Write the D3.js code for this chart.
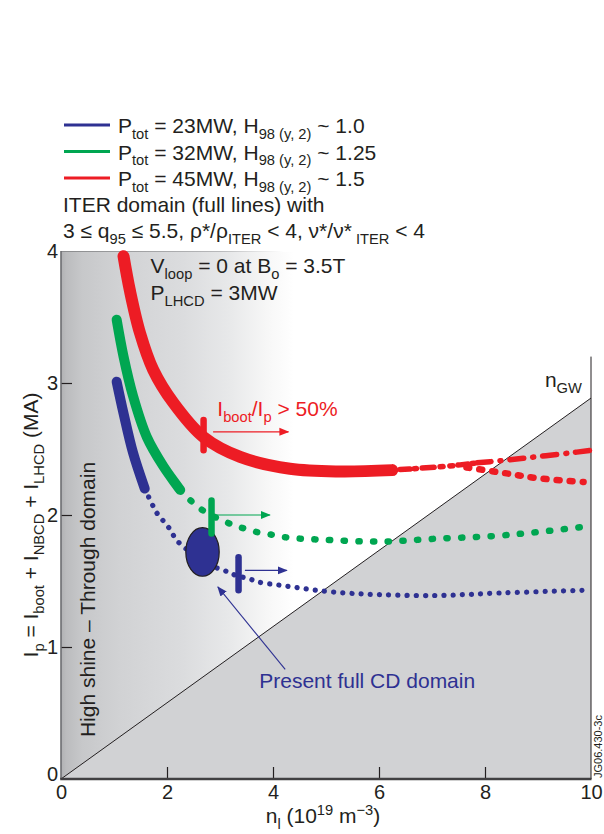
<!DOCTYPE html>
<html><head><meta charset="utf-8">
<script src="https://cdn.jsdelivr.net/npm/d3@7"></script>
<style>
body{margin:0;background:#fff}
svg{display:block}
text{font-family:"Liberation Sans",Arial,Helvetica,sans-serif;white-space:pre}
</style>
</head><body>
<svg id="c" width="604" height="834"></svg>
<script>
// ---------- data ----------
const xTicks = [0, 2, 4, 6, 8, 10];
const yTicks = [0, 1, 2, 3, 4];
const xDomain = [0, 10];
const yDomain = [0, 4];

// Greenwald limit line end value at n = 10
const nGW_x = [0, 10];
const nGW_y = [0, 2.886];

// 45 MW (red)
const redSolidX = [1.18, 1.30, 1.49, 1.74, 2.12, 2.69, 3.38, 4.32, 5.26, 6.25];
const redSolidY = [3.96, 3.70, 3.38, 3.10, 2.85, 2.59, 2.44, 2.35, 2.33, 2.34];
const redMidX = [6.25, 6.8, 7.3, 7.85];
const redMidY = [2.34, 2.355, 2.37, 2.395];
const redUpX = [7.85, 8.26, 8.72, 9.6, 10.0];
const redUpY = [2.395, 2.41, 2.43, 2.47, 2.49];
const redLowX = [7.65, 8.33, 8.97, 9.86];
const redLowY = [2.36, 2.32, 2.28, 2.25];
const redMark = {x: 2.69, y0: 2.49, y1: 2.72};
const redArrow = {x0: 2.87, x1: 4.29, y: 2.63};

// 32 MW (green)
const greenSolidX = [1.05, 1.18, 1.36, 1.62, 1.93, 2.25];
const greenSolidY = [3.48, 3.20, 2.90, 2.59, 2.37, 2.19];
const greenDotX = [2.25, 2.62, 3.15, 3.44, 3.70, 3.99, 4.26, 4.54, 4.81, 5.08, 5.66, 6.20, 7.06, 8.14, 8.97, 9.85];
const greenDotY = [2.19, 2.05, 1.94, 1.90, 1.87, 1.85, 1.83, 1.82, 1.815, 1.81, 1.80, 1.80, 1.82, 1.84, 1.87, 1.91];
const greenMark = {x: 2.84, y0: 1.86, y1: 2.11};
const greenArrow = {x0: 2.94, x1: 3.94, y: 2.0};

// 23 MW (blue)
const blueSolidX = [1.05, 1.18, 1.36, 1.58];
const blueSolidY = [3.01, 2.77, 2.47, 2.20];
const blueDotX = [1.58, 1.71, 1.80, 1.92, 2.06, 2.18, 2.5, 2.8, 3.08, 3.25, 3.60, 3.75, 4.10, 4.45, 4.82, 5.33, 5.78, 7.06, 8.33, 9.86];
const blueDotY = [2.20, 2.09, 2.02, 1.96, 1.89, 1.81, 1.70, 1.62, 1.58, 1.55, 1.51, 1.49, 1.47, 1.45, 1.43, 1.41, 1.40, 1.39, 1.41, 1.43];
const blueMark = {x: 3.35, y0: 1.43, y1: 1.68};
const blueArrow = {x0: 3.47, x1: 4.26, y: 1.58};

// present full CD domain ellipse (center, half-widths in data units)
const cdEllipse = {x: 2.67, y: 1.72, rx: 0.315, ry: 0.184};
const cdPointer = {x0: 4.23, y0: 0.83, x1: 2.96, y1: 1.455};

const legendItems = [
  {color: "#2e3192", p: "23MW", h: "1.0"},
  {color: "#00a651", p: "32MW", h: "1.25"},
  {color: "#ed1c24", p: "45MW", h: "1.5"}
];

// ---------- setup ----------
const BLUE = "#2e3192", GREEN = "#00a651", RED = "#ed1c24", INK = "#231f20";
const svg = d3.select("#c");
const x = d3.scaleLinear().domain(xDomain).range([61, 591]);
const y = d3.scaleLinear().domain(yDomain).range([779, 251]);
const zip = (xs, ys) => xs.map((v, i) => [v, ys[i]]);
const line = d3.line().x(d => x(d[0])).y(d => y(d[1])).curve(d3.curveCatmullRom.alpha(0.5));

const defs = svg.append("defs");
const grad = defs.append("linearGradient").attr("id", "bg").attr("x1", 0).attr("x2", 1).attr("y1", 0).attr("y2", 0);
[[0, "#b0b1b3"], [0.01, "#bbbcbe"], [0.04, "#c7c8ca"], [0.11, "#d1d2d4"], [0.23, "#dbdcde"], [0.32, "#e8e9ea"], [0.39, "#f7f7f7"], [0.44, "#ffffff"], [1, "#ffffff"]]
  .forEach(([o, c]) => grad.append("stop").attr("offset", o).attr("stop-color", c));
const tgrad = defs.append("linearGradient").attr("id", "topg").attr("gradientUnits", "userSpaceOnUse")
  .attr("x1", x(0)).attr("x2", x(10)).attr("y1", 0).attr("y2", 0);
[[0, "#8a8b8d"], [0.3, "#b8b9bb"], [0.42, "#ffffff"], [1, "#ffffff"]]
  .forEach(([o, c]) => tgrad.append("stop").attr("offset", o).attr("stop-color", c));

function marker(id, color) {
  defs.append("marker").attr("id", id).attr("viewBox", "0 0 10 10").attr("refX", 9).attr("refY", 5)
    .attr("markerWidth", 10).attr("markerHeight", 10).attr("markerUnits", "userSpaceOnUse").attr("orient", "auto")
    .append("path").attr("d", "M0,1 L10,5 L0,9 Z").attr("fill", color);
}
marker("arR", RED); marker("arG", GREEN); marker("arB", BLUE);

// rich text helper: parts [text, kind]
function rich(g, px, py, parts, o = {}) {
  const size = o.size || 21, fill = o.fill || INK;
  const t = g.append("text").attr("x", px).attr("y", py).attr("font-size", size).attr("fill", fill);
  if (o.anchor) t.attr("text-anchor", o.anchor);
  if (o.transform) t.attr("transform", o.transform);
  let shift = 0;
  parts.forEach(([s, k]) => {
    const target = k === "sub" ? size * 0.27 : k === "sup" ? -size * 0.38 : 0;
    const ts = t.append("tspan").text(s).attr("dy", target - shift);
    if (k) ts.attr("font-size", size * 0.7);
    shift = target;
  });
  return t;
}

// ---------- background ----------
svg.append("rect").attr("x", x(0)).attr("y", y(4)).attr("width", x(10) - x(0)).attr("height", y(0) - y(4)).attr("fill", "url(#bg)");
const gw = zip(nGW_x, nGW_y);
svg.append("path").attr("d", `M${x(gw[0][0])},${y(gw[0][1])} L${x(gw[1][0])},${y(gw[1][1])} L${x(10)},${y(0)} Z`).attr("fill", "#d1d2d4");
svg.append("line").attr("x1", x(gw[0][0])).attr("y1", y(gw[0][1])).attr("x2", x(gw[1][0])).attr("y2", y(gw[1][1]))
  .attr("stroke", INK).attr("stroke-width", 1);

// borders
svg.append("line").attr("x1", x(0)).attr("x2", x(10)).attr("y1", y(4) + 0.5).attr("y2", y(4) + 0.5).attr("stroke", "url(#topg)").attr("stroke-width", 1.2);
svg.append("line").attr("x1", x(10)).attr("x2", x(10)).attr("y1", y(3.2)).attr("y2", y(0)).attr("stroke", INK).attr("stroke-width", 1);

// axes
const ax = svg.append("g").attr("transform", `translate(0,${y(0)})`)
  .call(d3.axisBottom(x).tickValues(xTicks).tickFormat(d3.format("d")).tickSize(-12).tickPadding(6));
ax.select(".domain").remove();
ax.selectAll("text").attr("font-size", 20).attr("fill", INK).attr("font-family", "Liberation Sans, Arial, sans-serif");
ax.selectAll("line").attr("stroke", INK).attr("stroke-width", 1.2).filter(d => d === 0 || d === 10).remove();

const ay = svg.append("g").attr("transform", `translate(${x(0)},0)`)
  .call(d3.axisLeft(y).tickValues(yTicks).tickFormat(d3.format("d")).tickSize(-11).tickPadding(3));
ay.select(".domain").remove();
ay.selectAll("text").attr("font-size", 20).attr("fill", INK).attr("font-family", "Liberation Sans, Arial, sans-serif")
  .attr("dy", d => d === 0 ? "0.05em" : "0.32em");
ay.selectAll("line").attr("stroke", INK).attr("stroke-width", 1.2).filter(d => d === 0 || d === 4).remove();

svg.append("line").attr("x1", x(0)).attr("x2", x(0)).attr("y1", y(4)).attr("y2", y(0)).attr("stroke", "#6d6e71").attr("stroke-width", 1.6);
svg.append("line").attr("x1", x(0) - 0.8).attr("x2", x(10) + 0.5).attr("y1", y(0)).attr("y2", y(0)).attr("stroke", "#414042").attr("stroke-width", 2.4);

// ---------- curves ----------
const curves = svg.append("g").attr("fill", "none").attr("stroke-linecap", "round").attr("stroke-linejoin", "round");
// blue
curves.append("path").attr("d", line(zip(blueDotX, blueDotY))).attr("stroke", BLUE).attr("stroke-width", 5.2).attr("stroke-dasharray", "0.1 9.1");
curves.append("path").attr("d", line(zip(blueSolidX, blueSolidY))).attr("stroke", BLUE).attr("stroke-width", 10);
// green
curves.append("path").attr("d", line(zip(greenDotX, greenDotY))).attr("stroke", GREEN).attr("stroke-width", 6.5).attr("stroke-dasharray", "1.2 13.5");
curves.append("path").attr("d", line(zip(greenSolidX, greenSolidY))).attr("stroke", GREEN).attr("stroke-width", 10);
// red
curves.append("path").attr("d", line(zip(redMidX, redMidY))).attr("stroke", RED).attr("stroke-width", 5.5).attr("stroke-dasharray", "3 5 10 4 2 6 12 6 3 7");
curves.append("path").attr("d", line(zip(redUpX, redUpY))).attr("stroke", RED).attr("stroke-width", 5.5).attr("stroke-dasharray", "14 9 1 9");
curves.append("path").attr("d", line(zip(redLowX, redLowY))).attr("stroke", RED).attr("stroke-width", 6.5).attr("stroke-dasharray", "3 10");
curves.append("path").attr("d", line(zip(redSolidX, redSolidY))).attr("stroke", RED).attr("stroke-width", 12);

// ellipse
svg.append("ellipse").attr("cx", x(cdEllipse.x)).attr("cy", y(cdEllipse.y))
  .attr("rx", x(cdEllipse.rx) - x(0)).attr("ry", y(0) - y(cdEllipse.ry))
  .attr("fill", BLUE).attr("stroke", INK).attr("stroke-width", 1.2);

// threshold marks & arrows
[[redMark, redArrow, RED, "arR"], [greenMark, greenArrow, GREEN, "arG"], [blueMark, blueArrow, BLUE, "arB"]].forEach(([m, a, c, id]) => {
  svg.append("line").attr("x1", x(m.x)).attr("x2", x(m.x)).attr("y1", y(m.y0)).attr("y2", y(m.y1))
    .attr("stroke", c).attr("stroke-width", 6.5).attr("stroke-linecap", "round");
  svg.append("line").attr("x1", x(a.x0)).attr("x2", x(a.x1)).attr("y1", y(a.y)).attr("y2", y(a.y))
    .attr("stroke", c).attr("stroke-width", 1.2).attr("marker-end", `url(#${id})`);
});

// pointer
svg.append("line").attr("x1", x(cdPointer.x0)).attr("y1", y(cdPointer.y0)).attr("x2", x(cdPointer.x1)).attr("y2", y(cdPointer.y1))
  .attr("stroke", BLUE).attr("stroke-width", 1.1).attr("marker-end", "url(#arB)");

// ---------- texts ----------
const T = svg.append("g");
rich(T, x(3.74), y(0.69), [["Present full CD domain"]], {fill: BLUE});
rich(T, x(2.95), y(2.75), [["I"], ["boot", "sub"], ["/I"], ["p", "sub"], [" > 50%"]], {fill: RED});
rich(T, x(1.69), y(3.83), [["V"], ["loop", "sub"], [" = 0 at B"], ["o", "sub"], [" = 3.5T"]]);
rich(T, x(1.69), y(3.63), [["P"], ["LHCD", "sub"], [" = 3MW"]]);
rich(T, x(9.13), y(2.97), [["n"], ["GW", "sub"]]);

// vertical in-plot text
rich(T, 0, 0, [["High shine \u2013 Through domain"]], {anchor: "middle", transform: `translate(${x(0.64)},${y(1.36)}) rotate(-90)`});
// y label
rich(T, 0, 0, [["I"], ["p", "sub"], [" = I"], ["boot", "sub"], [" + I"], ["NBCD", "sub"], [" + I"], ["LHCD", "sub"], [" (MA)"]],
  {anchor: "middle", transform: `translate(38,525) rotate(-90)`});
// x label
rich(T, 323, 823, [["n"], ["l", "sub"], [" (10"], ["19", "sup"], [" m"], ["\u22123", "sup"], [")"]], {anchor: "middle"});
// id
T.append("text").attr("transform", "translate(602,778) rotate(-90)").attr("font-size", 11).attr("fill", INK).text("JG06.430-3c");

// legend
legendItems.forEach((d, i) => {
  const ly = 125 + i * 26.5;
  svg.append("line").attr("x1", 64).attr("x2", 110).attr("y1", ly).attr("y2", ly).attr("stroke", d.color).attr("stroke-width", 3);
  rich(T, 118, ly + 8, [["P"], ["tot", "sub"], [" = " + d.p + ", H"], ["98 (y, 2)", "sub"], [" ~ " + d.h]]);
});
rich(T, 63, 212, [["ITER domain (full lines) with"]]);
rich(T, 63, 238, [["3 \u2264 q"], ["95", "sub"], [" \u2264 5.5, \u03c1*/\u03c1"], ["ITER", "sub"], [" < 4, \u03bd*/\u03bd*"], [" ITER", "sub"], [" < 4"]]);
</script>
</body></html>
